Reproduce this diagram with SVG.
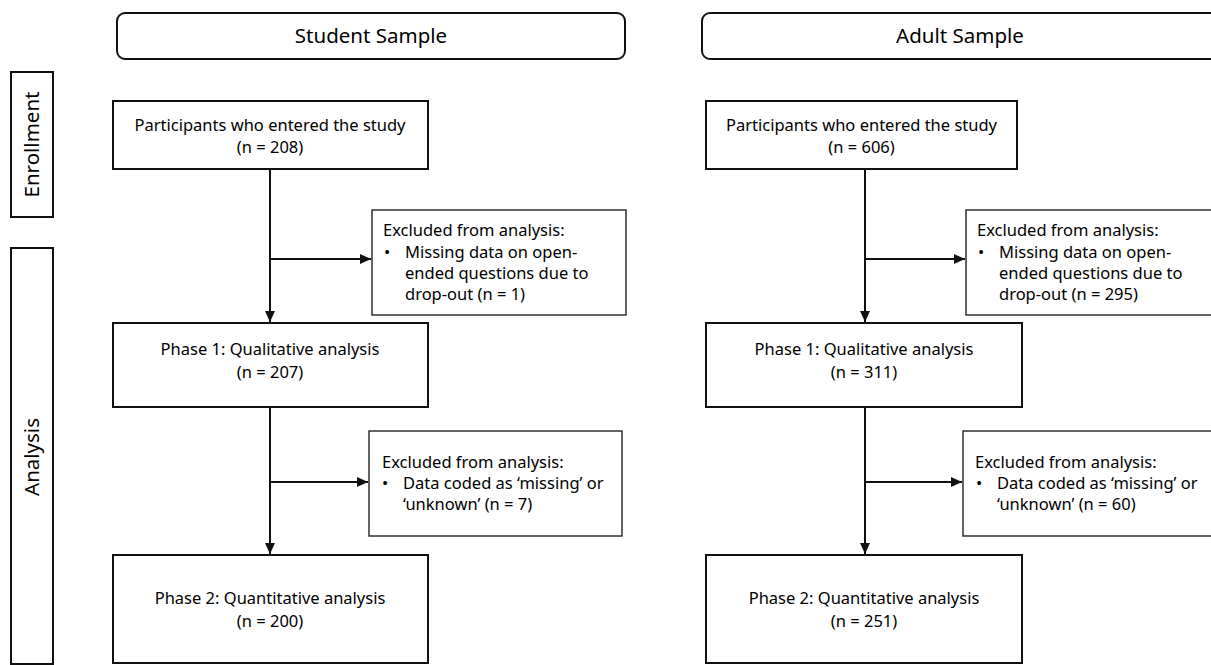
<svg xmlns="http://www.w3.org/2000/svg" width="1211" height="665" viewBox="0 0 1211 665">
<defs>
<style>
text{font-family:"Noto Sans","Liberation Sans",sans-serif;fill:#000;}
.t{font-size:16.5px;}
.c{text-anchor:middle;}
.h{font-size:20.5px;text-anchor:middle;}
.box{fill:#fff;stroke:#111;stroke-width:2;}
.ex{fill:#fff;stroke:#222;stroke-width:1.4;}
.ln{fill:none;stroke:#111;stroke-width:2;}
</style>
<marker id="ah" markerUnits="userSpaceOnUse" markerWidth="12" markerHeight="12" viewBox="0 0 12 12" refX="11" refY="6" orient="auto">
<path d="M0,1 L11,6 L0,11 Z" fill="#111"/>
</marker>
</defs>
<rect width="1211" height="665" fill="#fff"/>

<g id="side-enrollment">
<rect class="box" x="11" y="72" width="42" height="145"/>
<text class="h" transform="translate(39,144.5) rotate(-90)">Enrollment</text>
</g>
<g id="side-analysis">
<rect class="box" x="11" y="248" width="42" height="416"/>
<text class="h" transform="translate(39,457) rotate(-90)">Analysis</text>
</g>

<g id="header-student">
<rect class="box" x="117" y="13" width="508" height="46" rx="8"/>
<text class="h" x="371" y="43">Student Sample</text>
</g>
<g id="header-adult">
<rect class="box" x="702" y="13" width="530" height="46" rx="8"/>
<text class="h" x="960" y="43">Adult Sample</text>
</g>

<g id="connectors">
<line class="ln" x1="270" y1="169" x2="270" y2="322" marker-end="url(#ah)"/>
<line class="ln" x1="270" y1="259" x2="371" y2="259" marker-end="url(#ah)"/>
<line class="ln" x1="270" y1="407" x2="270" y2="554" marker-end="url(#ah)"/>
<line class="ln" x1="270" y1="482" x2="368" y2="482" marker-end="url(#ah)"/>
<line class="ln" x1="865" y1="169" x2="865" y2="322" marker-end="url(#ah)"/>
<line class="ln" x1="865" y1="259" x2="965" y2="259" marker-end="url(#ah)"/>
<line class="ln" x1="865" y1="407" x2="865" y2="554" marker-end="url(#ah)"/>
<line class="ln" x1="865" y1="482" x2="962" y2="482" marker-end="url(#ah)"/>
</g>

<g id="s-entered">
<rect class="box" x="113" y="101" width="315" height="68"/>
<text class="t c" x="270" y="131">Participants who entered the study</text>
<text class="t c" x="270" y="153">(n = 208)</text>
</g>
<g id="s-excl1">
<rect class="ex" x="372" y="210" width="254" height="105"/>
<text class="t" x="383" y="236">Excluded from analysis:</text>
<text class="t" x="384" y="258">•</text>
<text class="t" x="405" y="258">Missing data on open-</text>
<text class="t" x="405" y="279">ended questions due to</text>
<text class="t" x="405" y="300">drop-out (n = 1)</text>
</g>
<g id="s-phase1">
<rect class="box" x="113" y="323" width="315" height="84"/>
<text class="t c" x="270" y="355">Phase 1: Qualitative analysis</text>
<text class="t c" x="270" y="378">(n = 207)</text>
</g>
<g id="s-excl2">
<rect class="ex" x="369" y="431" width="253" height="105"/>
<text class="t" x="382" y="468">Excluded from analysis:</text>
<text class="t" x="382" y="489">•</text>
<text class="t" x="403" y="489">Data coded as ‘missing’ or</text>
<text class="t" x="403" y="510">‘unknown’ (n = 7)</text>
</g>
<g id="s-phase2">
<rect class="box" x="113" y="555" width="315" height="108"/>
<text class="t c" x="270" y="604">Phase 2: Quantitative analysis</text>
<text class="t c" x="270" y="627">(n = 200)</text>
</g>

<g id="a-entered">
<rect class="box" x="706" y="101" width="311" height="68"/>
<text class="t c" x="861.5" y="131">Participants who entered the study</text>
<text class="t c" x="861.5" y="153">(n = 606)</text>
</g>
<g id="a-excl1">
<rect class="ex" x="966" y="210" width="260" height="105"/>
<text class="t" x="977" y="236">Excluded from analysis:</text>
<text class="t" x="978" y="258">•</text>
<text class="t" x="999" y="258">Missing data on open-</text>
<text class="t" x="999" y="279">ended questions due to</text>
<text class="t" x="999" y="300">drop-out (n = 295)</text>
</g>
<g id="a-phase1">
<rect class="box" x="706" y="323" width="316" height="84"/>
<text class="t c" x="864" y="355">Phase 1: Qualitative analysis</text>
<text class="t c" x="864" y="378">(n = 311)</text>
</g>
<g id="a-excl2">
<rect class="ex" x="963" y="431" width="260" height="105"/>
<text class="t" x="975" y="468">Excluded from analysis:</text>
<text class="t" x="976" y="489">•</text>
<text class="t" x="997" y="489">Data coded as ‘missing’ or</text>
<text class="t" x="997" y="510">‘unknown’ (n = 60)</text>
</g>
<g id="a-phase2">
<rect class="box" x="706" y="555" width="316" height="108"/>
<text class="t c" x="864" y="604">Phase 2: Quantitative analysis</text>
<text class="t c" x="864" y="627">(n = 251)</text>
</g>
</svg>
